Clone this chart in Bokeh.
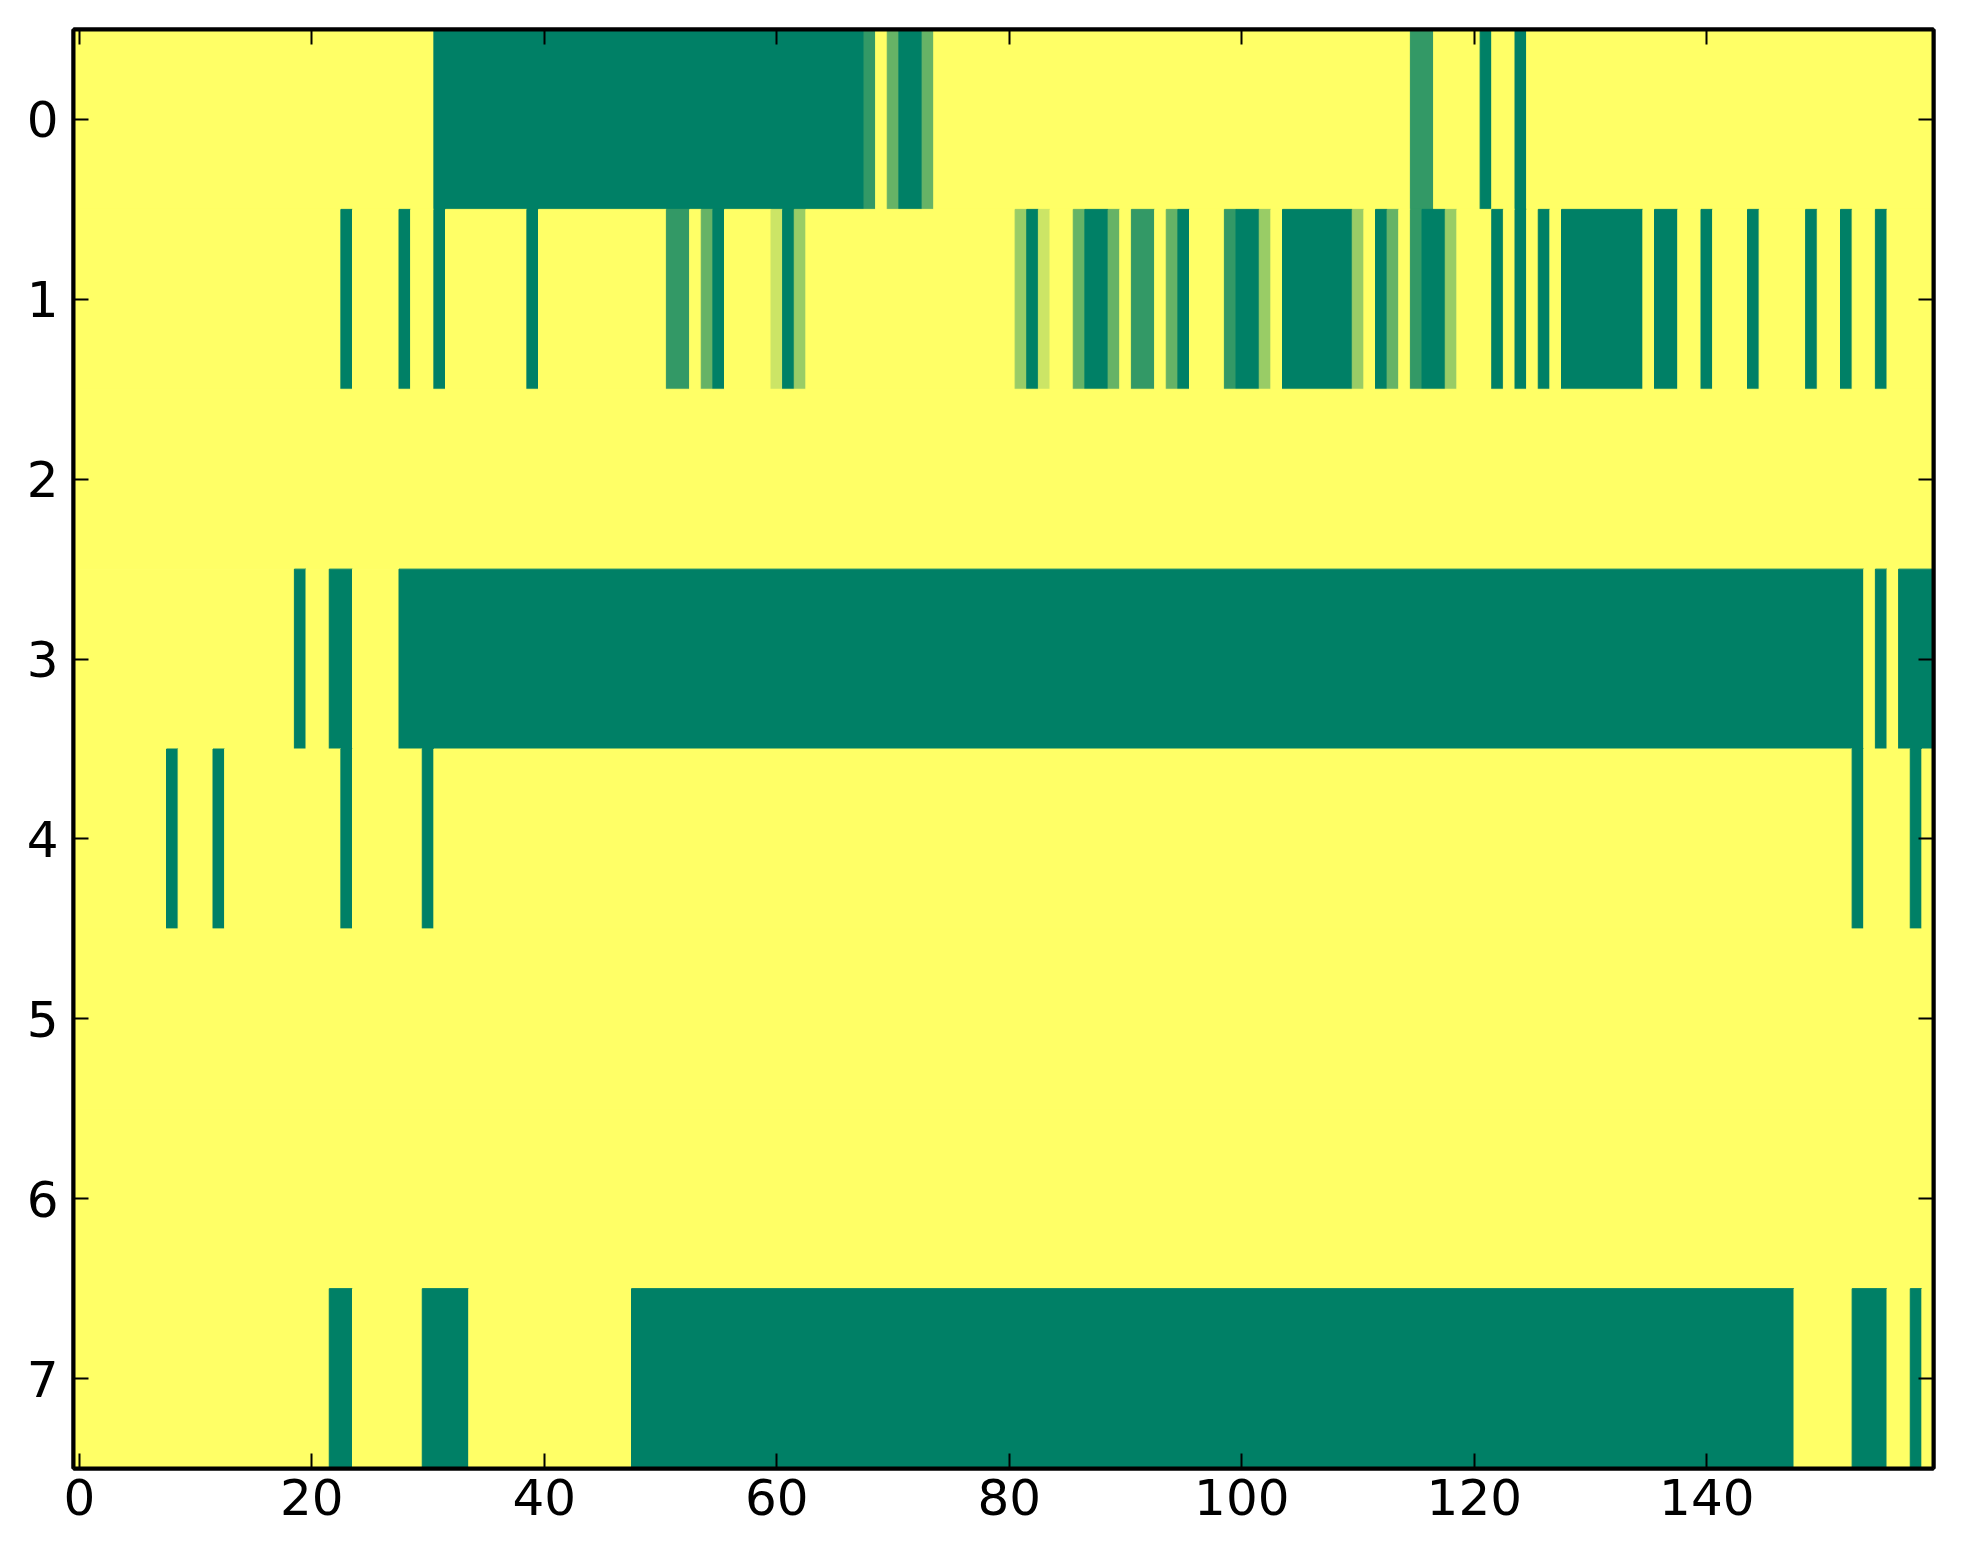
from bokeh.plotting import figure
from bokeh.models import Range1d, LinearAxis, FixedTicker, ColumnDataSource
from bokeh.transform import linear_cmap
from bokeh.embed import file_html
from bokeh.resources import INLINE

# ---- data ----
N_COLS = 160
ROWS = [0, 1, 2, 3, 4, 5, 6, 7]
X_TICKS = [0, 20, 40, 60, 80, 100, 120, 140]

# each row as runs of (value, number of columns), left to right
ROW0_RUNS = [(1.0, 31), (0.0, 37), (0.2, 1), (1.0, 1), (0.4, 1), (0.0, 2), (0.4, 1),
             (1.0, 41), (0.2, 2), (1.0, 4), (0.0, 1), (1.0, 2), (0.0, 1), (1.0, 35)]
ROW1_RUNS = [(1.0, 23), (0.0, 1), (1.0, 4), (0.0, 1), (1.0, 2), (0.0, 1), (1.0, 7), (0.0, 1),
             (1.0, 11), (0.2, 2), (1.0, 1), (0.4, 1), (0.0, 1), (1.0, 4), (0.8, 1), (0.0, 1),
             (0.6, 1), (1.0, 18), (0.6, 1), (0.0, 1), (0.8, 1), (1.0, 2), (0.4, 1), (0.0, 2),
             (0.4, 1), (1.0, 1), (0.2, 2), (1.0, 1), (0.4, 1), (0.0, 1), (1.0, 3), (0.2, 1),
             (0.0, 2), (0.6, 1), (1.0, 1), (0.0, 6), (0.6, 1), (1.0, 1), (0.0, 1), (0.4, 1),
             (1.0, 1), (0.2, 1), (0.0, 2), (0.6, 1), (1.0, 3), (0.0, 1), (1.0, 1), (0.0, 1),
             (1.0, 1), (0.0, 1), (1.0, 1), (0.0, 7), (1.0, 1), (0.0, 2), (1.0, 2), (0.0, 1),
             (1.0, 3), (0.0, 1), (1.0, 4), (0.0, 1), (1.0, 2), (0.0, 1), (1.0, 2), (0.0, 1),
             (1.0, 4)]
ROW2_RUNS = [(1.0, 160)]
ROW3_RUNS = [(1.0, 19), (0.0, 1), (1.0, 2), (0.0, 2), (1.0, 4), (0.0, 126), (1.0, 1),
             (0.0, 1), (1.0, 1), (0.0, 3)]
ROW4_RUNS = [(1.0, 8), (0.0, 1), (1.0, 3), (0.0, 1), (1.0, 10), (0.0, 1), (1.0, 6), (0.0, 1),
             (1.0, 122), (0.0, 1), (1.0, 4), (0.0, 1), (1.0, 1)]
ROW5_RUNS = [(1.0, 160)]
ROW6_RUNS = [(1.0, 160)]
ROW7_RUNS = [(1.0, 22), (0.0, 2), (1.0, 6), (0.0, 4), (1.0, 14), (0.0, 100), (1.0, 5),
             (0.0, 3), (1.0, 2), (0.0, 1), (1.0, 1)]

ALL_RUNS = [ROW0_RUNS, ROW1_RUNS, ROW2_RUNS, ROW3_RUNS,
            ROW4_RUNS, ROW5_RUNS, ROW6_RUNS, ROW7_RUNS]

# "summer" colormap steps
PALETTE = ["#008066", "#339966", "#66b366", "#99cc66", "#cce566", "#ffff66"]

# ---- build cell table ----
left, right, top, bottom, vals = [], [], [], [], []
for r, runs in zip(ROWS, ALL_RUNS):
    start = 0
    for v, n in runs:
        left.append(start - 0.5)
        right.append(start + n - 0.5)
        top.append(r - 0.5)
        bottom.append(r + 0.5)
        vals.append(v)
        start += n
    assert start == N_COLS, (r, start)

src = ColumnDataSource(dict(left=left, right=right, top=top, bottom=bottom, value=vals))

p = figure(
    frame_width=1860, frame_height=1439,
    x_range=Range1d(-0.5, N_COLS - 0.5), y_range=Range1d(len(ROWS) - 0.5, -0.5),
    output_backend="svg", toolbar_location=None,
    min_border_left=73, min_border_right=22, min_border_top=29, min_border_bottom=80,
    background_fill_color="white", border_fill_color="white",
)

cmap = linear_cmap("value", PALETTE, -0.1, 1.1)
p.quad(left="left", right="right", top="top", bottom="bottom", source=src,
       fill_color=cmap, line_color=cmap, line_width=1)

p.grid.visible = False
p.outline_line_color = "black"
p.outline_line_width = 4

FONT = "DejaVu Sans"

def style_axis(ax, ticks, show_labels, standoff):
    ax.ticker = FixedTicker(ticks=ticks)
    ax.axis_line_color = "black"
    ax.axis_line_width = 4
    ax.major_tick_in = 15
    ax.major_tick_out = 0
    ax.major_tick_line_width = 2
    ax.major_tick_line_color = "black"
    ax.minor_tick_line_color = None
    ax.major_label_text_font = FONT
    ax.major_label_text_color = "black"
    if show_labels:
        ax.major_label_text_font_size = "50px"
        ax.major_label_standoff = standoff
    else:
        ax.major_label_overrides = {t: "" for t in ticks}
        ax.major_label_text_font_size = "1px"
        ax.major_label_standoff = 0

style_axis(p.xaxis[0], X_TICKS, True, 10)
style_axis(p.yaxis[0], ROWS, True, 15)

top_ax = LinearAxis()
right_ax = LinearAxis()
style_axis(top_ax, X_TICKS, False, 0)
style_axis(right_ax, ROWS, False, 0)
p.add_layout(top_ax, "above")
p.add_layout(right_ax, "right")

open("out.html", "w").write(file_html(p, INLINE))
